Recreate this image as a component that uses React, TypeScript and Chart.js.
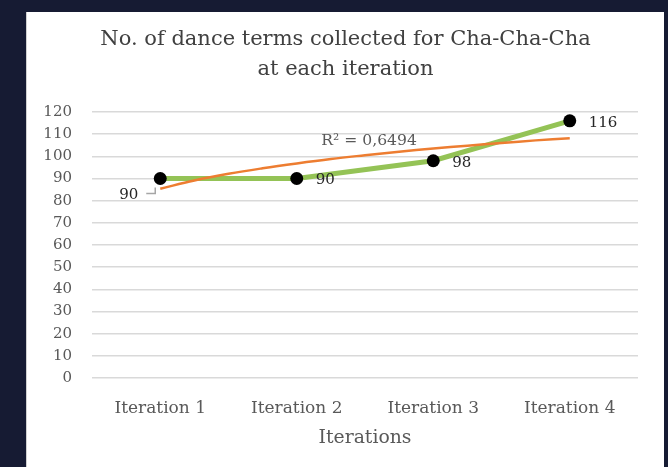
import React, { useEffect, useRef } from "react";
import { Chart, registerables } from "chart.js";

Chart.register(...registerables);

const categories = ["Iteration 1", "Iteration 2", "Iteration 3", "Iteration 4"];
const termCounts = [90, 90, 98, 116];
const trendX = [1, 1.25, 1.5, 1.75, 2, 2.25, 2.5, 2.75, 3, 3.25, 3.5, 3.75, 4];
const trendY = [85.4, 89.1, 92.1, 94.6, 96.8, 98.8, 100.5, 102.1, 103.5, 104.8, 106.0, 107.2, 108.2];
const titleLines = ["No. of dance terms collected for Cha-Cha-Cha", "at each iteration"];
const xTitle = "Iterations";
const r2Label = "R² = 0,6494";

const FONT = '"DejaVu Serif", serif';

export default function App() {
  const ref = useRef<HTMLCanvasElement | null>(null);

  useEffect(() => {
    const canvas = ref.current!;
    const overlay = {
      id: "overlay",
      afterDatasetsDraw(chart: any) {
        const ctx = chart.ctx;
        const xs = chart.scales.x;
        const ys = chart.scales.y;
        const ca = chart.chartArea;
        ctx.save();
        // title
        ctx.fillStyle = "#404040";
        ctx.font = `21px ${FONT}`;
        ctx.textAlign = "center";
        ctx.textBaseline = "middle";
        const cx = chart.width / 2;
        ctx.fillText(titleLines[0], cx, 28);
        ctx.fillText(titleLines[1], cx, 58);
        // axis title
        ctx.fillStyle = "#595959";
        ctx.font = `18.8px ${FONT}`;
        ctx.fillText(xTitle, (ca.left + ca.right) / 2, 426);
        // R² label
        ctx.font = `15.6px ${FONT}`;
        ctx.fillStyle = "#595959";
        ctx.fillText(r2Label, xs.getPixelForValue(2.53), ys.getPixelForValue(107));
        // data labels
        const meta = chart.getDatasetMeta(1);
        ctx.fillStyle = "#262626";
        ctx.font = `15px ${FONT}`;
        meta.data.forEach((el: any, i: number) => {
          const v = String(termCounts[i]);
          if (i === 0) {
            ctx.textAlign = "right";
            ctx.fillText(v, el.x - 22, el.y + 17);
            ctx.strokeStyle = "#a6a6a6";
            ctx.lineWidth = 1.5;
            ctx.beginPath();
            ctx.moveTo(el.x - 14, el.y + 15);
            ctx.lineTo(el.x - 5, el.y + 15);
            ctx.lineTo(el.x - 5, el.y + 9);
            ctx.stroke();
          } else {
            ctx.textAlign = "left";
            ctx.fillText(v, el.x + 19, el.y + 2);
          }
        });
        ctx.restore();
      },
    };

    const chart = new Chart(canvas, {
      type: "line",
      data: {
        datasets: [
          {
            label: "Trend",
            data: trendX.map((x, i) => ({ x, y: trendY[i] })),
            borderColor: "#ed7d31",
            borderWidth: 2.5,
            pointRadius: 0,
            tension: 0.4,
            order: 0,
          },
          {
            label: "Terms",
            data: termCounts.map((y, i) => ({ x: i + 1, y })),
            borderColor: "#94c356",
            borderWidth: 5,
            pointRadius: 6.5,
            pointBackgroundColor: "#000000",
            pointBorderColor: "#000000",
            pointBorderWidth: 0,
            order: 1,
          },
        ],
      },
      options: {
        responsive: false,
        animation: false,
        layout: { padding: { top: 100, right: 26, left: 0, bottom: 0 } },
        plugins: { legend: { display: false }, title: { display: false }, tooltip: { enabled: false } },
        scales: {
          x: {
            type: "linear",
            min: 0.5,
            max: 4.5,
            afterBuildTicks: (s: any) => {
              s.ticks = categories.map((_, i) => ({ value: i + 1 }));
            },
            afterFit: (s: any) => {
              s.height = 89;
            },
            grid: { display: false },
            border: { display: false },
            ticks: {
              padding: 12,
              color: "#595959",
              font: { family: FONT, size: 17 },
              callback: (v: any) => categories[Math.round(Number(v)) - 1] ?? "",
              maxRotation: 0,
            },
          },
          y: {
            min: 0,
            max: 120,
            afterFit: (s: any) => {
              s.width = 65;
            },
            grid: { color: "#d9d9d9", lineWidth: 1.5, drawTicks: false },
            border: { display: false },
            ticks: {
              stepSize: 10,
              padding: 20,
              color: "#595959",
              font: { family: FONT, size: 15 },
            },
          },
        },
      },
      plugins: [overlay],
    } as any);
    return () => chart.destroy();
  }, []);

  return (
    <div style={{ position: "fixed", left: 0, top: 0, width: 668, height: 467, background: "#161b33" }}>
      <div
        style={{
          position: "absolute",
          left: 26,
          top: 12,
          width: 638,
          height: 455,
          background: "#ffffff",
          borderLeft: "1px solid #d0d0d0",
          boxSizing: "border-box",
        }}
      >
        <canvas ref={ref} width={637} height={455} style={{ display: "block" }} />
      </div>
    </div>
  );
}
